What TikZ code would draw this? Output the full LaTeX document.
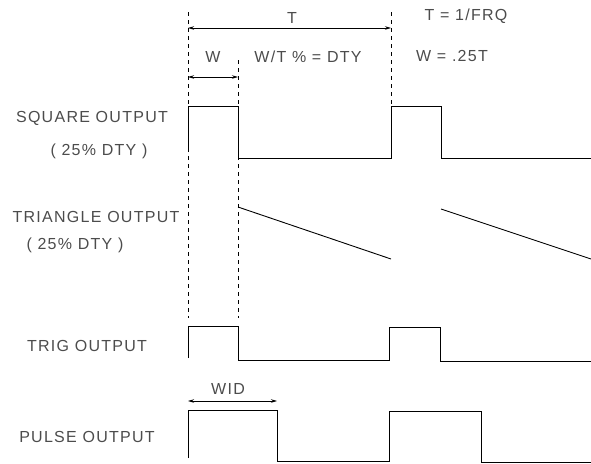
\documentclass[tikz,border=0pt]{standalone}
\usepackage{fontspec}
\setmainfont{Liberation Sans}[LetterSpace=8]
\usetikzlibrary{arrows.meta}

\begin{document}
\begin{tikzpicture}[x=1pt,y=-1pt,font=\fontsize{16}{18}\selectfont,
  sig/.style={line width=0.9pt,line join=miter},
  guide/.style={line width=0.7pt,dash pattern=on 4pt off 4pt},
  dim/.style={{Stealth[length=6pt,width=3.5pt]}-{Stealth[length=6pt,width=3.5pt]},line width=0.8pt},
  lbl/.style={inner sep=0pt,text=black!70}]
  \useasboundingbox (0,0) rectangle (591,463);

  % time marks
  \coordinate (g0) at (188,12);  \coordinate (g0b) at (188,318);
  \coordinate (g1) at (238,60);  \coordinate (g1b) at (238,318);
  \coordinate (g2) at (391,12);  \coordinate (g2b) at (391,106);
  \draw[guide] (g0) -- (g0b);
  \draw[guide] (g1) -- (g1b);
  \draw[guide] (g2) -- (g2b);

  % dimension arrows
  \coordinate (tA) at (188,28);   \coordinate (tB) at (391,28);
  \coordinate (wA) at (188,77);   \coordinate (wB) at (238,77);
  \coordinate (widA) at (188,401); \coordinate (widB) at (277,401);
  \draw[dim] (tA) -- (tB);
  \draw[dim] (wA) -- (wB);
  \draw[dim] (widA) -- (widB);

  % labels
  \node[lbl] (tlbl) at (292,18) {T};
  \node[lbl] (wlbl) at (213,57) {W};
  \node[lbl] (dty) at (308,57) {W/T \% = DTY};
  \node[lbl] (frq) at (466,16) {T = 1/FRQ};
  \node[lbl] (wdef) at (452,56) {W = .25T};
  \node[lbl] (sq) at (92,118) {SQUARE OUTPUT};
  \node[lbl] (sqd) at (99,151) {( 25\% DTY )};
  \node[lbl] (tri) at (96,217) {TRIANGLE OUTPUT};
  \node[lbl] (trid) at (75,245) {( 25\% DTY )};
  \node[lbl] (trig) at (87,346) {TRIG OUTPUT};
  \node[lbl] (pulse) at (87,437) {PULSE OUTPUT};
  \node[lbl] (wid) at (228,389) {WID};

  % waveforms
  \draw[sig] (188,152) -- (188,106) -- (238,106) -- (238,158) -- (391,158)
    -- (391,106) -- (441,106) -- (441,158) -- (591,158);
  \draw[sig] (238,207) -- (391,259);
  \draw[sig] (441,209) -- (591,259);
  \draw[sig] (188,358) -- (188,326) -- (238,326) -- (238,360) -- (389,360)
    -- (389,327) -- (440,327) -- (440,361) -- (591,361);
  \draw[sig] (188,458) -- (188,410) -- (277,410) -- (277,461) -- (389,461)
    -- (389,411) -- (481,411) -- (481,462) -- (591,462);
\end{tikzpicture}
\end{document}
